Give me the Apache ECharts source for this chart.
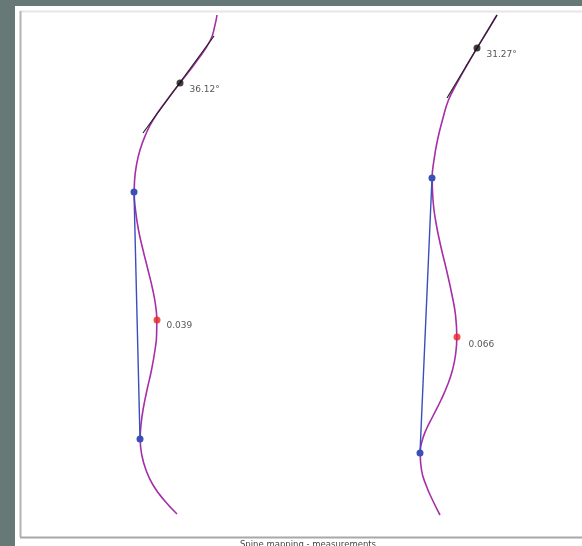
<!DOCTYPE html>
<html>
<head>
<meta charset="utf-8">
<script src="https://cdn.jsdelivr.net/npm/echarts@6/dist/echarts.min.js"></script>
<style>
  html, body { margin: 0; padding: 0; background: #677977; }
  #chart { width: 582px; height: 546px; }
</style>
</head>
<body>
<div id="chart"></div>
<script>
// Spine profiles in image-plane coordinates (x to the right, y downward)
const leftSpineX  = [217, 215, 210.5, 197.5, 180, 167, 153, 145.5, 140, 136.5, 134.6, 134.2, 135.5, 138.5, 143, 148, 152.8, 155.5, 156.8, 156.6, 155, 151.5, 147, 143, 141, 140.2, 141.8, 146, 153, 164, 177];
const leftSpineY  = [ 15,  25,  40,    60,    83, 100, 120, 135,   150, 165,   180,   192,   210,   230,   250, 270, 290,   305,   320,   335,   350, 370,   390, 410, 425, 439,   455,   470, 485, 500, 514];
const rightSpineX = [497, 488, 477, 467, 456, 448.5, 443, 437.5, 434, 432.2, 433, 435.5, 440.5, 446.5, 452, 455.5, 456.8, 455.5, 452.5, 447.5, 441, 433.5, 426, 421.8, 420.2, 421.5, 426, 432.5, 440];
const rightSpineY = [ 15,  30,  48,  65,  85, 100,   118, 140,   160, 178,   200, 220,   245,   270,   295, 315,   337,   355,   370,   385,   400, 415,   430, 442,   453,   470,   485, 500,   515];

// Tangent segments at the upper measurement point
const leftTangentX  = [143, 214];
const leftTangentY  = [133,  36];
const rightTangentX = [447, 497];
const rightTangentY = [ 98,  15];

// Measurement points
const tangentPoints = [[180, 83], [477, 48]];
const angleLabels   = ['36.12°', '31.27°'];
const chordEnds     = [[[134, 192], [140, 439]], [[432, 178], [420, 453]]];
const apexPoints    = [[157, 320], [457, 337]];
const apexLabels    = ['0.039', '0.066'];

const titleText = 'Spine mapping - measurements';

const zip = (xs, ys) => xs.map((x, i) => [x, ys[i]]);

const curveStyle = { color: '#a62fa8', width: 1.6 };
const series = [];

series.push({ type: 'line', data: zip(leftSpineX, leftSpineY), smooth: 0.5,
  symbol: 'none', lineStyle: curveStyle, z: 2 });
series.push({ type: 'line', data: zip(rightSpineX, rightSpineY), smooth: 0.5,
  symbol: 'none', lineStyle: curveStyle, z: 2 });

series.push({ type: 'line', data: zip(leftTangentX, leftTangentY), symbol: 'none',
  lineStyle: { color: '#222', width: 1.2 }, z: 3 });
series.push({ type: 'line', data: zip(rightTangentX, rightTangentY), symbol: 'none',
  lineStyle: { color: '#222', width: 1.2 }, z: 3 });

chordEnds.forEach(ends => {
  series.push({ type: 'line', data: ends, symbol: 'circle', symbolSize: 7,
    lineStyle: { color: '#3b4fb8', width: 1.4 }, itemStyle: { color: '#3b4fb8' }, z: 4 });
});

const labelStyle = { show: true, position: 'right', distance: 6, formatter: p => p.name,
  fontFamily: 'DejaVu Sans', fontSize: 9, color: '#2a2a2a' };

series.push({ type: 'scatter', data: tangentPoints.map((p, i) => ({ value: p, name: angleLabels[i] })),
  symbol: 'circle', symbolSize: 7, itemStyle: { color: '#111' }, z: 5,
  label: Object.assign({}, labelStyle, { offset: [0, 7] }) });

series.push({ type: 'scatter', data: apexPoints.map((p, i) => ({ value: p, name: apexLabels[i],
    label: { offset: i === 0 ? [0, 6] : [2, 8] } })),
  symbol: 'circle', symbolSize: 7, itemStyle: { color: '#ee2222' }, z: 5,
  label: labelStyle });

const chart = echarts.init(document.getElementById('chart'), null, { renderer: 'canvas' });
chart.setOption({
  animation: false,
  backgroundColor: '#677977',
  graphic: [
    { type: 'rect', shape: { x: 15, y: 6, width: 567, height: 540 }, style: { fill: '#ffffff' }, z: -10 },
    { type: 'line', shape: { x1: 20, y1: 11.5, x2: 582, y2: 11.5 }, style: { stroke: '#e6e6e6', lineWidth: 2 }, z: -5 },
    { type: 'line', shape: { x1: 20.5, y1: 11, x2: 20.5, y2: 537 }, style: { stroke: '#b4b4b4', lineWidth: 2 }, z: -5 },
    { type: 'line', shape: { x1: 20, y1: 537.5, x2: 582, y2: 537.5 }, style: { stroke: '#a8a8a8', lineWidth: 2 }, z: -5 },
    { type: 'text', x: 308, y: 540, style: { text: titleText, fontFamily: 'DejaVu Sans', fontSize: 8.5,
      fill: '#444', align: 'center', verticalAlign: 'top' } }
  ],
  grid: { left: 0, right: 0, top: 0, bottom: 0 },
  xAxis: { type: 'value', min: 0, max: 582, show: false },
  yAxis: { type: 'value', min: 0, max: 546, inverse: true, show: false },
  series: series
});
</script>
</body>
</html>
